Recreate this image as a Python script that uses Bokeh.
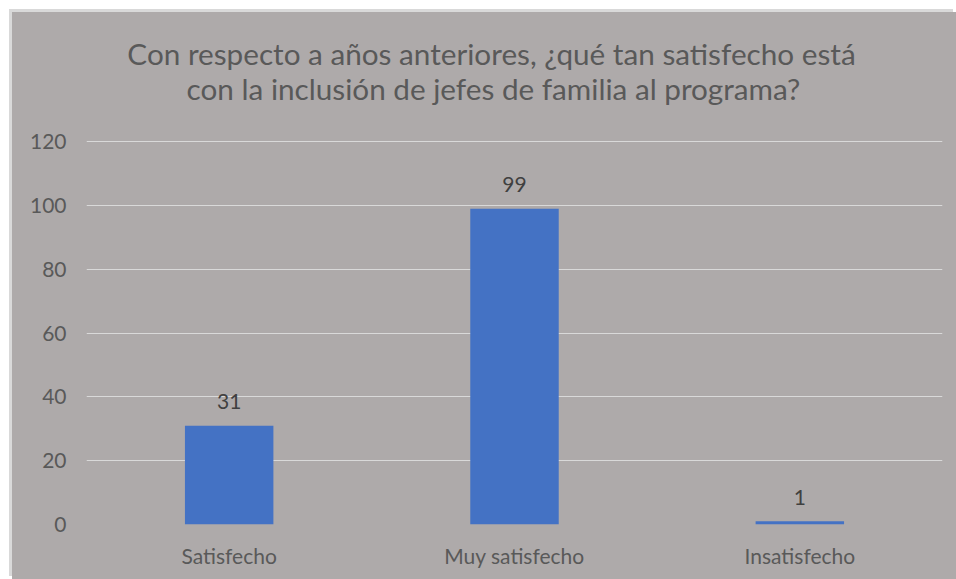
from bokeh.plotting import figure
from bokeh.models import ColumnDataSource, Range1d, LabelSet, FixedTicker
from bokeh.layouts import column
from bokeh.core.properties import value
from bokeh.embed import file_html
from bokeh.resources import INLINE

categories = ["Satisfecho", "Muy satisfecho", "Insatisfecho"]
values = [31, 99, 1]
y_ticks = [0, 20, 40, 60, 80, 100, 120]
title_lines = ["Con respecto a años anteriores, ¿qué tan satisfecho está",
               "con la inclusión de jefes de familia al programa?"]

FONT = "Lato"
BG = "#aeaaaa"
W = 944
TH = 115

# ---- title strip (its frame is aligned with the chart frame by the column) ----
t = figure(width=W, height=TH, x_range=Range1d(86, 942), y_range=Range1d(TH, 0),
           output_backend="svg", toolbar_location=None,
           min_border_left=0, min_border_right=0, min_border_top=0, min_border_bottom=0)
t.axis.visible = False
t.grid.grid_line_color = None
t.outline_line_color = None
t.background_fill_alpha = 0
t.border_fill_alpha = 0
t.text(x=[491, 493], y=[41, 76], text=title_lines, text_align="center",
       text_baseline="middle", text_font=value(FONT), text_font_size="29.7px",
       text_color="#595959")

# ---- chart ----
source = ColumnDataSource(data=dict(cat=categories, val=values,
                                    lbl=[str(v) for v in values]))

p = figure(x_range=categories, y_range=Range1d(0, 120.4),
           width=W, height=567 - TH, output_backend="svg", toolbar_location=None,
           min_border_left=74, min_border_right=14, min_border_top=13,
           min_border_bottom=55)
p.background_fill_color = BG
p.border_fill_color = BG
p.outline_line_color = None

p.vbar(x="cat", top="val", width=0.31, source=source,
       fill_color="#4472c4", line_color=None)

labels = LabelSet(x="cat", y="val", text="lbl", source=source, y_offset=24,
                  text_align="center", text_baseline="middle",
                  text_font=value(FONT), text_font_size=value("21px"),
                  text_color="#404040")
p.add_layout(labels)

p.yaxis.ticker = FixedTicker(ticks=y_ticks)
p.yaxis.axis_line_color = None
p.yaxis.major_tick_line_color = None
p.yaxis.minor_tick_line_color = None
p.yaxis.major_tick_out = 0
p.yaxis.major_label_standoff = 20
p.yaxis.major_label_text_font = FONT
p.yaxis.major_label_text_font_size = "21px"
p.yaxis.major_label_text_color = "#595959"

p.xaxis.axis_line_color = None
p.xaxis.major_tick_line_color = None
p.xaxis.major_tick_out = 0
p.xaxis.major_label_standoff = 18
p.xaxis.major_label_text_font = FONT
p.xaxis.major_label_text_font_size = "21px"
p.xaxis.major_label_text_color = "#595959"

p.xgrid.grid_line_color = None
p.ygrid.grid_line_color = "#d9d9d9"
p.ygrid.grid_line_width = 1

layout = column(t, p, spacing=0)
layout.margin = (12, 0, 0, 12)
layout.styles = {"box-shadow": "-3px -3px 0 0 #d9d9d9", "background-color": BG}

open("out.html", "w").write(file_html(layout, INLINE))
